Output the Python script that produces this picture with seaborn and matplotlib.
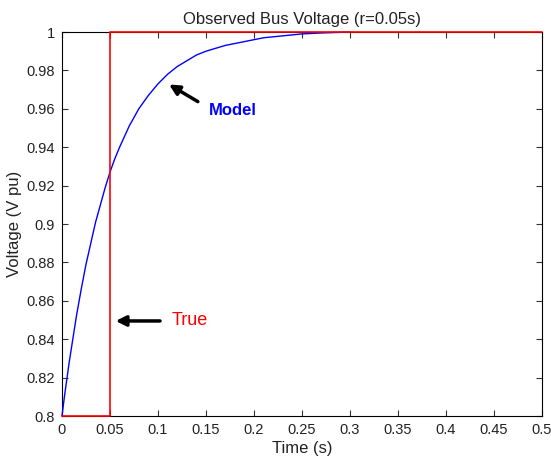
import matplotlib
matplotlib.use("Agg")
import matplotlib.pyplot as plt
import seaborn as sns
import pandas as pd

# Model response
model_t = [0, 0.0025, 0.005, 0.0075, 0.01, 0.015, 0.02, 0.025, 0.03, 0.035, 0.04, 0.045, 0.05,
           0.055, 0.06, 0.07, 0.08, 0.09, 0.1, 0.11, 0.12, 0.13, 0.14, 0.15, 0.17, 0.19, 0.21,
           0.23, 0.25, 0.27, 0.3]
model_v = [0.8, 0.81, 0.819, 0.828, 0.836, 0.852, 0.866, 0.879, 0.89, 0.901, 0.91, 0.919, 0.927,
           0.934, 0.94, 0.951, 0.96, 0.967, 0.973, 0.978, 0.982, 0.985, 0.988, 0.99, 0.993, 0.995, 0.997,
           0.998, 0.999, 0.9995, 1.0]
# True response (step)
true_t = [0, 0.05, 0.05, 0.5]
true_v = [0.8, 0.8, 1.0, 1.0]

x_ticks = [0, 0.05, 0.1, 0.15, 0.2, 0.25, 0.3, 0.35, 0.4, 0.45, 0.5]
x_tick_labels = ["0", "0.05", "0.1", "0.15", "0.2", "0.25", "0.3", "0.35", "0.4", "0.45", "0.5"]
y_ticks = [0.8, 0.82, 0.84, 0.86, 0.88, 0.9, 0.92, 0.94, 0.96, 0.98, 1.0]
y_tick_labels = ["0.8", "0.82", "0.84", "0.86", "0.88", "0.9", "0.92", "0.94", "0.96", "0.98", "1"]

sns.set_style("white")
plt.rcParams['font.family'] = ['Liberation Sans', 'DejaVu Sans']

fig = plt.figure(figsize=(5.51, 4.61), dpi=100)
ax = fig.add_axes([62/551, 1-416/461, 480/551, 384/461])

df_model = pd.DataFrame({"t": model_t, "v": model_v})
df_true = pd.DataFrame({"t": true_t, "v": true_v})
sns.lineplot(data=df_model, x="t", y="v", ax=ax, color="#0000ff", linewidth=1.0, sort=False, estimator=None)
sns.lineplot(data=df_true, x="t", y="v", ax=ax, color="#ff0000", linewidth=1.2, sort=False, estimator=None)
for ln in ax.lines:
    ln.set_clip_on(False)
ax.lines[-1].set_zorder(4)
ax.lines[0].set_zorder(3.5)

ax.set_xlim(0, 0.5)
ax.set_ylim(0.8, 1.0)
ax.set_xticks(x_ticks)
ax.set_xticklabels(x_tick_labels)
ax.set_yticks(y_ticks)
ax.set_yticklabels(y_tick_labels)
ax.tick_params(direction="in", length=4, width=0.8, labelsize=10.5, colors="#333333", pad=5,
               top=True, right=True, bottom=True, left=True)
ax.tick_params(labelcolor="#222222")
for s in ax.spines.values():
    s.set_color("#000000")
    s.set_linewidth(0.8)

ax.set_xlabel("Time (s)", fontsize=12, labelpad=3, color="#222222")
ax.set_ylabel("Voltage (V pu)", fontsize=12, labelpad=3, color="#222222")
ax.set_title("Observed Bus Voltage (r=0.05s)", fontsize=12, pad=6, color="#222222")

ax.annotate("", xy=(0.109, 0.9734), xytext=(0.144, 0.963),
            arrowprops=dict(arrowstyle="-|>", color="black", lw=2.5, mutation_scale=15))
ax.text(0.153, 0.959, "Model", color="#0000ff", fontsize=12, fontweight="bold", va="center", ha="left")
ax.annotate("", xy=(0.053, 0.8495), xytext=(0.105, 0.8495),
            arrowprops=dict(arrowstyle="-|>", color="black", lw=2.5, mutation_scale=15))
ax.text(0.1146, 0.8495, "True", color="#ff0000", fontsize=13, va="center", ha="left")

fig.savefig("out.png", dpi=100)
